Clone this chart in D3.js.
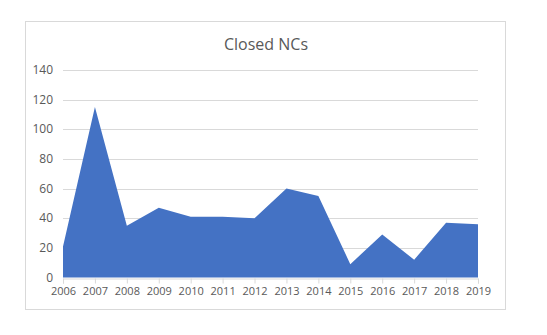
<!DOCTYPE html>
<html>
<head>
<meta charset="utf-8">
<script src="https://cdn.jsdelivr.net/npm/d3@7"></script>
<style>
    body { margin: 0; background: #fff; }
    text { font-family: "Open Sans", "Noto Sans", sans-serif; fill: #595959; }
</style>
</head>
<body>
<div id="chart"></div>
<script>
'use strict';

// Data
const years = ['2006', '2007', '2008', '2009', '2010', '2011', '2012',
    '2013', '2014', '2015', '2016', '2017', '2018', '2019'];
const closedNCs = [21, 115, 35, 47, 41, 41, 40, 60, 55, 9, 29, 12, 37, 36];
const yTicks = [0, 20, 40, 60, 80, 100, 120, 140];

// Configs
const svgW = 547;
const svgH = 335;
const margin = {top: 70, right: 69, bottom: 57.5, left: 63};

const svg = d3.select('#chart')
    .append('svg')
    .attr('width', svgW)
    .attr('height', svgH);

// Chart border
svg.append('rect')
    .attr('x', 25.5)
    .attr('y', 21.5)
    .attr('width', 480)
    .attr('height', 288)
    .attr('fill', '#fff')
    .attr('stroke', '#d9d9d9');

const x = d3.scalePoint()
    .domain(years)
    .range([margin.left, svgW - margin.right]);
const y = d3.scaleLinear()
    .domain([0, 140])
    .range([svgH - margin.bottom, margin.top]);

// Gridlines
svg.append('g')
    .selectAll('line')
    .data(yTicks.slice(1))
    .join('line')
    .attr('x1', margin.left)
    .attr('x2', svgW - margin.right)
    .attr('y1', d => Math.round(y(d)) + 0.5)
    .attr('y2', d => Math.round(y(d)) + 0.5)
    .attr('stroke', '#d9d9d9');

// Area
const area = d3.area()
    .x((d, i) => x(years[i]))
    .y0(y(0))
    .y1(d => y(d));
svg.append('path')
    .datum(closedNCs)
    .attr('fill', '#4472c4')
    .attr('d', area);

// Y axis labels
svg.append('g')
    .selectAll('text')
    .data(yTicks)
    .join('text')
    .attr('x', 53)
    .attr('y', d => y(d))
    .attr('dy', '0.35em')
    .attr('text-anchor', 'end')
    .style('font-size', '12px')
    .text(d => d);

// X axis
const xAxis = svg.append('g')
    .attr('transform', `translate(0, ${Math.round(y(0)) + 0.5})`)
    .call(d3.axisBottom(x).tickSize(5).tickPadding(4));
xAxis.select('.domain').attr('stroke', '#d9d9d9');
xAxis.selectAll('.tick line').attr('stroke', '#d9d9d9');
xAxis.selectAll('.tick text')
    .style('font-size', '11px')
    .style('fill', '#595959');

// Title
svg.append('text')
    .attr('x', 266)
    .attr('y', 50)
    .attr('text-anchor', 'middle')
    .style('font-size', '16px')
    .text('Closed NCs');
</script>
</body>
</html>
